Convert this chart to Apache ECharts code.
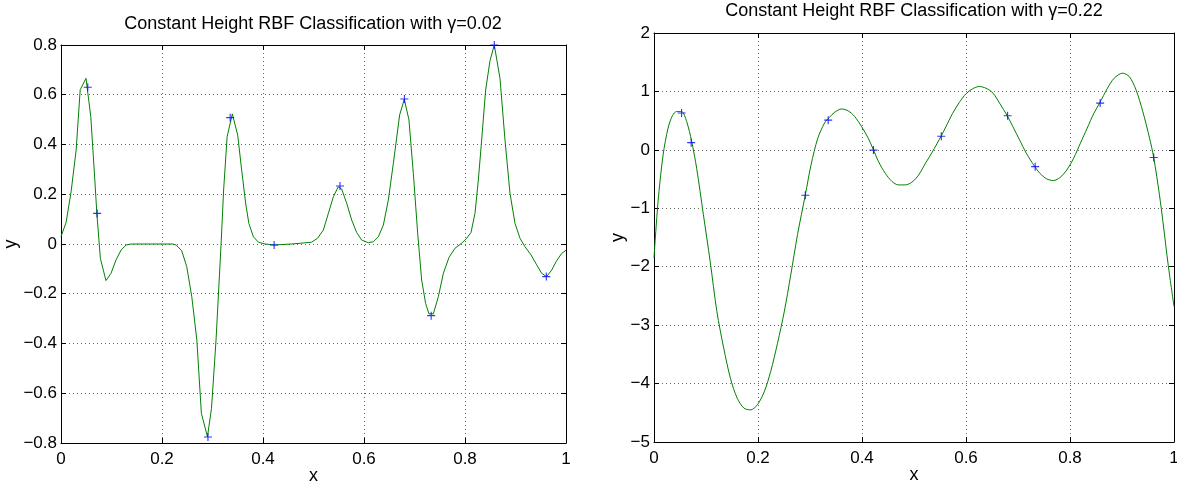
<!DOCTYPE html>
<html>
<head>
<meta charset="utf-8">
<title>Constant Height RBF Classification</title>
<script src="https://cdn.jsdelivr.net/npm/echarts@6/dist/echarts.min.js"></script>
<style>
  html, body { margin: 0; padding: 0; background: #fff; }
  #chart { width: 1177px; height: 482px; }
</style>
</head>
<body>
<div id="chart"></div>
<script>
// training points (same in both panels)
const pointX = [0.053, 0.0715, 0.291, 0.335, 0.422, 0.5525, 0.680, 0.733, 0.858, 0.961];
const pointY = [0.63, 0.123, -0.776, 0.508, -0.004, 0.233, 0.583, -0.288, 0.80, -0.131];

// gamma = 0.02 fit
const leftX = [0, 0.010, 0.020, 0.030, 0.038, 0.0495, 0.059, 0.067, 0.071, 0.078, 0.089, 0.099, 0.109, 0.119, 0.129, 0.139,
  0.221, 0.228, 0.239, 0.249, 0.259, 0.269, 0.278, 0.290, 0.298, 0.307, 0.317, 0.322, 0.329, 0.3393, 0.3499, 0.3577,
  0.3656, 0.372, 0.381, 0.391, 0.404, 0.422, 0.457, 0.496, 0.508, 0.5195, 0.5294, 0.5393, 0.549, 0.5558, 0.5657,
  0.5756, 0.5855, 0.5954, 0.6086, 0.6185, 0.6284, 0.6383, 0.6482, 0.6581, 0.6706, 0.6798, 0.689, 0.6977, 0.7063,
  0.7142, 0.722, 0.7287, 0.7373, 0.7472, 0.7571, 0.7683, 0.7802, 0.7934, 0.8033, 0.8119, 0.8198, 0.8264, 0.833,
  0.8409, 0.8495, 0.858, 0.8693, 0.8792, 0.8891, 0.899, 0.9089, 0.9188, 0.9307, 0.942, 0.9518, 0.9617, 0.9716,
  0.9815, 0.9914, 1.0];
const leftY = [0.03, 0.086, 0.21, 0.378, 0.62, 0.666, 0.512, 0.257, 0.123, -0.058, -0.147, -0.118, -0.064, -0.024, -0.004, 0,
  0, -0.004, -0.027, -0.091, -0.212, -0.386, -0.681, -0.775, -0.661, -0.386, 0, 0.217, 0.432, 0.523, 0.438, 0.298,
  0.164, 0.083, 0.029, 0.007, 0, -0.004, 0, 0.007, 0.023, 0.056, 0.123, 0.19, 0.23, 0.221, 0.164,
  0.0965, 0.046, 0.016, 0.005, 0.009, 0.029, 0.076, 0.177, 0.324, 0.519, 0.582, 0.499, 0.284, 0.043,
  -0.145, -0.239, -0.281, -0.281, -0.212, -0.118, -0.054, -0.017, 0.003, 0.023, 0.046, 0.123, 0.257, 0.418,
  0.619, 0.737, 0.80, 0.666, 0.418, 0.204, 0.083, 0.023, -0.011, -0.044, -0.084, -0.118, -0.131, -0.105,
  -0.067, -0.038, -0.025];

// gamma = 0.22 fit
const rightX = [0, 0.0078, 0.0175, 0.027, 0.0356, 0.0434, 0.053, 0.0628, 0.0725, 0.082, 0.095, 0.108, 0.121, 0.134, 0.147,
  0.16, 0.173, 0.186, 0.199, 0.212, 0.2245, 0.2375, 0.2505, 0.263, 0.276, 0.291, 0.302, 0.315, 0.328, 0.3366, 0.3476,
  0.3605, 0.3735, 0.386, 0.399, 0.412, 0.422, 0.4317, 0.4447, 0.4576, 0.470, 0.483, 0.496, 0.509, 0.522, 0.535,
  0.553, 0.561, 0.574, 0.587, 0.600, 0.6125, 0.6255, 0.6385, 0.652, 0.6645, 0.679, 0.690, 0.703, 0.716, 0.732,
  0.742, 0.755, 0.768, 0.781, 0.794, 0.807, 0.82, 0.833, 0.846, 0.857, 0.872, 0.885, 0.901, 0.914, 0.927, 0.940,
  0.953, 0.961, 0.972, 0.979, 0.989, 1.0];
const rightY = [-1.85, -0.884, -0.086, 0.371, 0.588, 0.656, 0.656, 0.485, 0.143, -0.314, -1.11, -1.91, -2.77, -3.39, -3.91,
  -4.25, -4.42, -4.45, -4.36, -4.14, -3.79, -3.31, -2.77, -2.14, -1.45, -0.77, -0.257, 0.20, 0.46, 0.55, 0.645,
  0.70, 0.667, 0.57, 0.40, 0.20, 0, -0.20, -0.40, -0.54, -0.60, -0.60, -0.553, -0.43, -0.23, -0.04,
  0.25, 0.39, 0.62, 0.81, 0.96, 1.045, 1.084, 1.055, 0.97, 0.80, 0.588, 0.40, 0.171, -0.057, -0.285,
  -0.40, -0.496, -0.525, -0.473, -0.342, -0.143, 0.114, 0.371, 0.627, 0.80, 1.055, 1.226, 1.312, 1.255, 1.027, 0.656,
  0.20, -0.131, -0.77, -1.25, -1.98, -2.68];

const xTicks = [0, 0.2, 0.4, 0.6, 0.8, 1];
const leftYTicks = [-0.8, -0.6, -0.4, -0.2, 0, 0.2, 0.4, 0.6, 0.8];
const rightYTicks = [-5, -4, -3, -2, -1, 0, 1, 2];

const font = 'Liberation Sans, Arial, Helvetica, sans-serif';
const zip = (xs, ys) => xs.map((x, i) => [x, ys[i]]);
const fmt = v => {
  const r = Math.round(v * 10) / 10;
  return r < 0 ? '\u2212' + Math.abs(r) : String(r);
};
const plus = 'path://M0,4.3H10V5.7H0Z M4.3,0H5.7V10H4.3Z';

function axisBase(grid, ticks) {
  return {
    gridIndex: grid, type: 'value', min: ticks[0], max: ticks[ticks.length - 1], interval: ticks[1] - ticks[0],
    axisLine: { onZero: false, lineStyle: { color: '#000', width: 1 } },
    axisTick: { inside: true, length: 5, lineStyle: { color: '#000' } }
  };
}

function xAxes(grid, ticks) {
  const base = axisBase(grid, ticks);
  return [
    Object.assign({}, base, {
      position: 'bottom', name: 'x', nameLocation: 'middle', nameGap: 24, nameMoveOverlap: false,
      nameTextStyle: { color: '#000', fontSize: 18, fontFamily: font },
      axisLabel: { color: '#000', fontSize: 17, fontFamily: font, margin: 8, formatter: fmt },
      splitLine: { show: true, lineStyle: { color: '#666', type: [1, 3], width: 1 } }
    }),
    Object.assign({}, base, { position: 'top', axisLabel: { show: false }, splitLine: { show: false } })
  ];
}

function yAxes(grid, ticks, gap) {
  const base = axisBase(grid, ticks);
  return [
    Object.assign({}, base, {
      position: 'left', name: 'y', nameLocation: 'middle', nameGap: gap,
      nameTextStyle: { color: '#000', fontSize: 18, fontFamily: font },
      axisLabel: { color: '#000', fontSize: 17, fontFamily: font, margin: 4, formatter: fmt },
      splitLine: { show: true, lineStyle: { color: '#666', type: [1, 3], width: 1 } }
    }),
    Object.assign({}, base, { position: 'right', axisLabel: { show: false }, splitLine: { show: false } })
  ];
}

const chart = echarts.init(document.getElementById('chart'), null, { renderer: 'canvas' });

chart.setOption({
  animation: false,
  backgroundColor: '#fff',
  title: [
    {
      text: 'Constant Height RBF Classification with \u03b3=0.02',
      left: 313, top: 15, textAlign: 'center', padding: 0,
      textStyle: { color: '#000', fontSize: 18, fontWeight: 'normal', fontFamily: font }
    },
    {
      text: 'Constant Height RBF Classification with \u03b3=0.22',
      left: 914, top: 2, textAlign: 'center', padding: 0,
      textStyle: { color: '#000', fontSize: 18, fontWeight: 'normal', fontFamily: font }
    }
  ],
  grid: [
    { left: 61, top: 45, width: 505, height: 398, outerBoundsMode: 'none' },
    { left: 654, top: 33, width: 520, height: 409, outerBoundsMode: 'none' }
  ],
  xAxis: xAxes(0, xTicks).concat(xAxes(1, xTicks)),
  yAxis: yAxes(0, leftYTicks, 38).concat(yAxes(1, rightYTicks, 22)),
  series: [
    {
      type: 'line', xAxisIndex: 0, yAxisIndex: 0, data: zip(leftX, leftY),
      showSymbol: false, lineStyle: { color: '#008000', width: 1 }, z: 2
    },
    {
      type: 'scatter', xAxisIndex: 0, yAxisIndex: 0, data: zip(pointX, pointY),
      symbol: plus, symbolSize: 8, itemStyle: { color: '#0000ff' }, z: 3
    },
    {
      type: 'line', xAxisIndex: 2, yAxisIndex: 2, data: zip(rightX, rightY),
      showSymbol: false, smooth: 0.3, lineStyle: { color: '#008000', width: 1 }, z: 2
    },
    {
      type: 'scatter', xAxisIndex: 2, yAxisIndex: 2, data: zip(pointX, pointY),
      symbol: plus, symbolSize: 8, itemStyle: { color: '#0000ff' }, z: 3
    }
  ]
});
</script>
</body>
</html>
